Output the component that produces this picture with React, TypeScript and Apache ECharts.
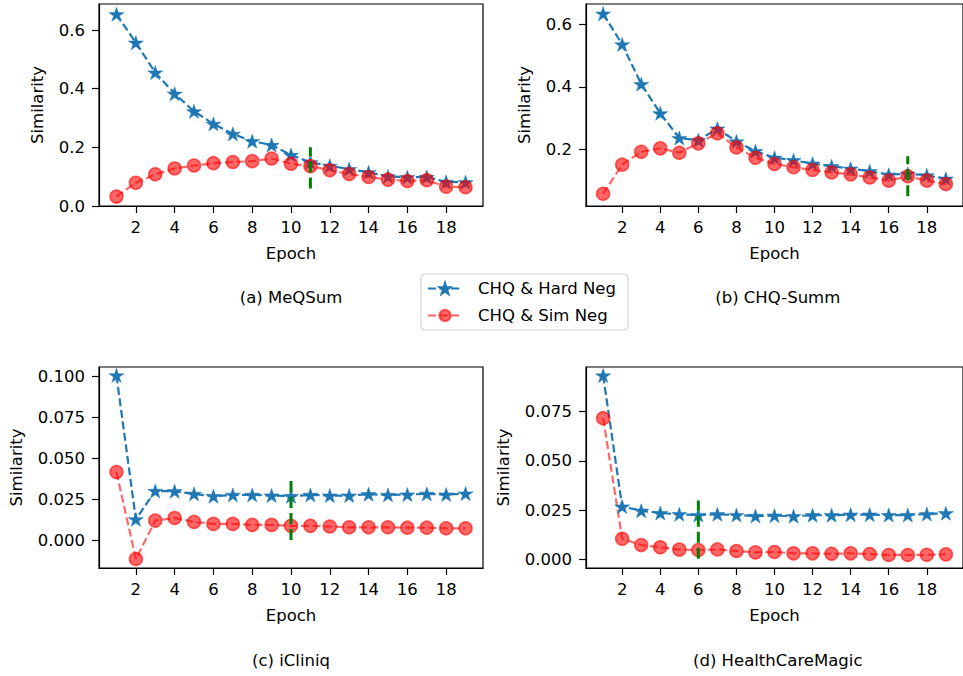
import React, { useEffect, useRef } from "react";
import * as echarts from "echarts";

const epochs = [1, 2, 3, 4, 5, 6, 7, 8, 9, 10, 11, 12, 13, 14, 15, 16, 17, 18, 19];
const xTicks = [2, 4, 6, 8, 10, 12, 14, 16, 18];

const hardA = [0.654, 0.557, 0.455, 0.383, 0.323, 0.28, 0.246, 0.221, 0.208, 0.174, 0.149, 0.137, 0.126, 0.115, 0.101, 0.098, 0.099, 0.082, 0.081];
const simA = [0.032, 0.079, 0.108, 0.128, 0.138, 0.146, 0.15, 0.153, 0.162, 0.144, 0.136, 0.122, 0.109, 0.099, 0.09, 0.085, 0.088, 0.066, 0.064];
const hardB = [0.634, 0.536, 0.409, 0.316, 0.237, 0.23, 0.267, 0.226, 0.195, 0.174, 0.166, 0.155, 0.147, 0.139, 0.131, 0.12, 0.123, 0.118, 0.107];
const simB = [0.059, 0.152, 0.193, 0.204, 0.19, 0.22, 0.252, 0.207, 0.174, 0.154, 0.144, 0.135, 0.127, 0.121, 0.111, 0.101, 0.115, 0.101, 0.09];
const hardC = [0.1008, 0.013, 0.0303, 0.0301, 0.0285, 0.0271, 0.0279, 0.0279, 0.0275, 0.0271, 0.0279, 0.0275, 0.0275, 0.0283, 0.0279, 0.0281, 0.0285, 0.0281, 0.0287];
const simC = [0.0418, -0.0112, 0.0122, 0.0138, 0.0114, 0.0102, 0.0102, 0.0096, 0.0096, 0.009, 0.009, 0.0086, 0.0081, 0.0081, 0.0081, 0.0079, 0.0079, 0.0075, 0.0075];
const hardD = [0.0932, 0.0269, 0.0248, 0.0236, 0.023, 0.0226, 0.023, 0.0226, 0.0221, 0.0223, 0.022, 0.0225, 0.0225, 0.0228, 0.0228, 0.0226, 0.0226, 0.0231, 0.0235];
const simD = [0.0716, 0.0106, 0.0074, 0.0063, 0.0051, 0.0049, 0.0052, 0.0044, 0.0037, 0.0039, 0.0032, 0.0032, 0.003, 0.0032, 0.0029, 0.0024, 0.0024, 0.0025, 0.0027];

// green marker: [epoch, low, high]
const markA = [11, 0.06, 0.2];
const markB = [17, 0.051, 0.179];
const markC = [10, 0.0004, 0.0385];
const markD = [6, 0.0005, 0.0299];

const yTicksA = [0, 0.2, 0.4, 0.6];
const yTicksB = [0.2, 0.4, 0.6];
const yTicksC = [0, 0.025, 0.05, 0.075, 0.1];
const yTicksD = [0, 0.025, 0.05, 0.075];

const yRangeA = [0, 0.689];
const yRangeB = [0.02, 0.665];
const yRangeC = [-0.0167, 0.1059];
const yRangeD = [-0.0042, 0.0975];

const panelTitles = ["(a) MeQSum", "(b) CHQ-Summ", "(c) iCliniq", "(d) HealthCareMagic"];
const seriesNames = ["CHQ & Hard Neg", "CHQ & Sim Neg"];

const FONT = "DejaVu Sans";
const FS = 16.5;
const STAR = "path://M0,-1L0.2245,-0.309L0.951,-0.309L0.363,0.118L0.588,0.809L0,0.382L-0.588,0.809L-0.363,0.118L-0.951,-0.309L-0.2245,-0.309Z";
const BLUE = "#1f77b4";
const RED = "rgba(255,0,0,0.6)";

export default function App() {
  const ref = useRef<HTMLDivElement>(null);
  useEffect(() => {
    if (!ref.current) return;
    const chart = echarts.init(ref.current, null, { renderer: "svg" });
    const grids = [
      { left: 99, top: 4, width: 384, height: 202 },
      { left: 586, top: 4, width: 383.5, height: 202 },
      { left: 99, top: 367, width: 384, height: 201 },
      { left: 586, top: 367, width: 383.5, height: 201 },
    ];
    const hard = [hardA, hardB, hardC, hardD];
    const sim = [simA, simB, simC, simD];
    const marks = [markA, markB, markC, markD];
    const yTicks = [yTicksA, yTicksB, yTicksC, yTicksD];
    const yRanges = [yRangeA, yRangeB, yRangeC, yRangeD];
    const decimals = [1, 1, 3, 3];
    const yNameGap = [53, 53, 74, 74];

    const xAxis = grids.map((_, i) => ({
      type: "value",
      gridIndex: i,
      min: 0.1,
      max: 19.9,
      name: "Epoch",
      nameLocation: "middle",
      nameGap: 39,
      nameTextStyle: { fontFamily: FONT, fontSize: FS, color: "#000" },
      splitLine: { show: false },
      axisLine: { show: true, onZero: false, lineStyle: { color: "#000", width: 1.2 } },
      axisTick: { show: true, length: 7, lineStyle: { color: "#000", width: 1.2 }, customValues: xTicks },
      axisLabel: { fontFamily: FONT, fontSize: FS, color: "#000", margin: 13, customValues: xTicks },
    }));
    const yAxis = grids.map((_, i) => ({
      type: "value",
      gridIndex: i,
      min: yRanges[i][0],
      max: yRanges[i][1],
      name: "Similarity",
      nameLocation: "middle",
      nameRotate: 90,
      nameGap: yNameGap[i],
      nameTextStyle: { fontFamily: FONT, fontSize: FS, color: "#000" },
      splitLine: { show: false },
      axisLine: { show: true, onZero: false, lineStyle: { color: "#000", width: 1.2 } },
      axisTick: { show: true, length: 7, lineStyle: { color: "#000", width: 1.2 }, customValues: yTicks[i] },
      axisLabel: {
        fontFamily: FONT, fontSize: FS, color: "#000", margin: 14, customValues: yTicks[i],
        formatter: (v: number) => v.toFixed(decimals[i]),
      },
    }));

    const series: any[] = [];
    grids.forEach((_, i) => {
      series.push({
        type: "line", name: seriesNames[0], xAxisIndex: i, yAxisIndex: i,
        data: epochs.map((e, k) => [e, hard[i][k]]),
        symbol: STAR, symbolSize: [15, 14],
        lineStyle: { color: BLUE, width: 2.2, type: [8, 3.6] },
        itemStyle: { color: BLUE, borderColor: BLUE, borderWidth: 0.5 },
      });
      series.push({
        type: "line", name: seriesNames[1], xAxisIndex: i, yAxisIndex: i,
        data: epochs.map((e, k) => [e, sim[i][k]]),
        symbol: "circle", symbolSize: 13,
        lineStyle: { color: RED, width: 2.2, type: [8, 3.6] },
        itemStyle: { color: RED, borderColor: RED, borderWidth: 1.5 },
      });
    });
    grids.forEach((_, i) => {
      series.push({
        type: "line", name: "marker" + i, xAxisIndex: i, yAxisIndex: i,
        data: [[marks[i][0], marks[i][1]], [marks[i][0], marks[i][2]]],
        symbol: "none", silent: true, z: 5,
        lineStyle: { color: "#008000", width: 3, type: [11, 5] },
      });
    });

    const titleY = [297, 297, 660, 660];
    const graphic = grids.map((g, i) => ({
      type: "text",
      x: g.left + g.width / 2,
      y: titleY[i],
      style: {
        text: panelTitles[i], fontFamily: FONT, fontSize: FS, fill: "#000",
        textAlign: "center", textVerticalAlign: "middle",
      },
    }));

    chart.setOption({
      animation: false,
      backgroundColor: "#fff",
      grid: grids.map((g) => ({ ...g, show: true, borderColor: "#000", borderWidth: 1.2, backgroundColor: "transparent" })),
      xAxis, yAxis, series, graphic,
      legend: {
        data: seriesNames,
        orient: "vertical",
        left: 421, top: 274,
        itemWidth: 34, itemHeight: 14, itemGap: 10,
        padding: [6, 12, 6, 6],
        backgroundColor: "rgba(255,255,255,0.8)",
        borderColor: "#cccccc", borderWidth: 1, borderRadius: 4,
        textStyle: { fontFamily: FONT, fontSize: FS, color: "#000", padding: [0, 0, 0, 11] },
      },
    });
    return () => chart.dispose();
  }, []);
  return <div ref={ref} style={{ position: "fixed", left: 0, top: 0, width: 963, height: 676 }} />;
}
